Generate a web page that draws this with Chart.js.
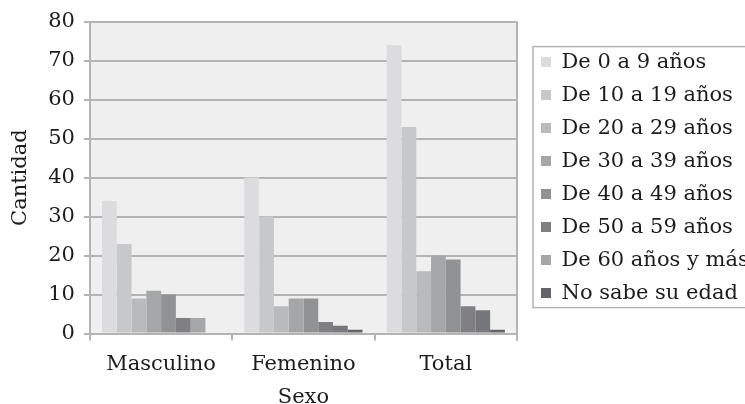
<!DOCTYPE html>
<html>
<head>
<meta charset="utf-8">
<script src="https://cdn.jsdelivr.net/npm/chart.js@4"></script>
<style>
  html, body { margin: 0; padding: 0; background: #fff; }
  #wrap { width: 745px; height: 404px; }
</style>
</head>
<body>
<div id="wrap"><canvas id="myChart" width="745" height="404"></canvas></div>
<script>
const categories = ['Masculino', 'Femenino', 'Total'];
const ageGroups = ['De 0 a 9 años', 'De 10 a 19 años', 'De 20 a 29 años', 'De 30 a 39 años',
  'De 40 a 49 años', 'De 50 a 59 años', 'De 60 años y más', 'No sabe su edad'];
// one array per age group: [Masculino, Femenino, Total]
const age0to9 = [34, 40, 74];
const age10to19 = [23, 30, 53];
const age20to29 = [9, 7, 16];
const age30to39 = [11, 9, 20];
const age40to49 = [10, 9, 19];
const age50to59 = [4, 3, 7];
const age60plus = [4, 2, 6];
const ageUnknown = [0, 1, 1];
const yTicks = [0, 10, 20, 30, 40, 50, 60, 70, 80];

const seriesValues = [age0to9, age10to19, age20to29, age30to39, age40to49, age50to59, age60plus, ageUnknown];
const colors = ['#dcdcde', '#c7c8ca', '#b9babc', '#a5a6a8', '#919294', '#808083', '#76777a', '#646568'];

const font = { family: '"DejaVu Serif", serif', size: 21 };
const textColor = '#1e1b1c';
const lineColor = '#b4b4b4';

const plotFrame = {
  id: 'plotFrame',
  beforeDraw(chart) {
    const a = chart.chartArea;
    const c = chart.ctx;
    c.save();
    c.fillStyle = '#efefef';
    c.fillRect(a.left, a.top, a.right - a.left, a.bottom - a.top);
    c.restore();
  },
  afterDraw(chart) {
    const a = chart.chartArea;
    const c = chart.ctx;
    c.save();
    c.strokeStyle = lineColor;
    c.lineWidth = 2;
    c.beginPath();
    c.moveTo(a.right, a.top);
    c.lineTo(a.right, a.bottom + 7);
    c.stroke();
    // border round the legend
    const boxes = chart.legend.legendHitBoxes;
    if (boxes && boxes.length) {
      const first = boxes[0];
      const last = boxes[boxes.length - 1];
      c.lineWidth = 1.5;
      c.strokeRect(first.left - 8, first.top - 5, chart.width, last.top + last.height - first.top + 9);
    }
    c.restore();
  }
};

const ctx = document.getElementById('myChart').getContext('2d');
new Chart(ctx, {
  type: 'bar',
  data: {
    labels: categories,
    datasets: seriesValues.map((vals, i) => ({
      label: ageGroups[i],
      data: vals,
      // the reference draws the first "60 y más" bar in a lighter grey
      backgroundColor: i === 6
        ? (c) => (c.type === 'data' && c.dataIndex === 0 ? '#a5a6a8' : colors[i])
        : colors[i],
      borderWidth: 0,
      categoryPercentage: 0.83,
      barPercentage: 1,
    })),
  },
  options: {
    responsive: false,
    animation: false,
    layout: { padding: { left: 0, right: 0, top: 10, bottom: 0 } },
    plugins: {
      tooltip: { enabled: false },
      legend: {
        position: 'right',
        fullSize: false,
        align: 'center',
        maxWidth: 216,
        labels: {
          font: font,
          color: textColor,
          boxWidth: 10,
          boxHeight: 10,
          padding: 12,
        },
      },
    },
    scales: {
      x: {
        grid: { drawOnChartArea: false, tickLength: 7, color: lineColor, lineWidth: 2 },
        border: { color: lineColor, width: 2 },
        ticks: { font: font, color: textColor, padding: 11 },
        title: { display: true, text: 'Sexo', font: font, color: textColor, padding: { top: -3, bottom: -6 } },
      },
      y: {
        min: 0,
        max: 80,
        afterBuildTicks: (s) => { s.ticks = yTicks.map((v) => ({ value: v })); },
        grid: { color: lineColor, lineWidth: 2, tickLength: 6 },
        border: { color: lineColor, width: 2 },
        ticks: { font: font, color: textColor, padding: 9 },
        title: { display: true, text: 'Cantidad', font: font, color: textColor, padding: { top: 8, bottom: 6 } },
      },
      y2: {
        position: 'right',
        grid: { display: false },
        border: { display: false },
        ticks: { display: false },
        afterFit: (s) => { s.width = 12; },
      },
    },
  },
  plugins: [plotFrame],
});
</script>
</body>
</html>
